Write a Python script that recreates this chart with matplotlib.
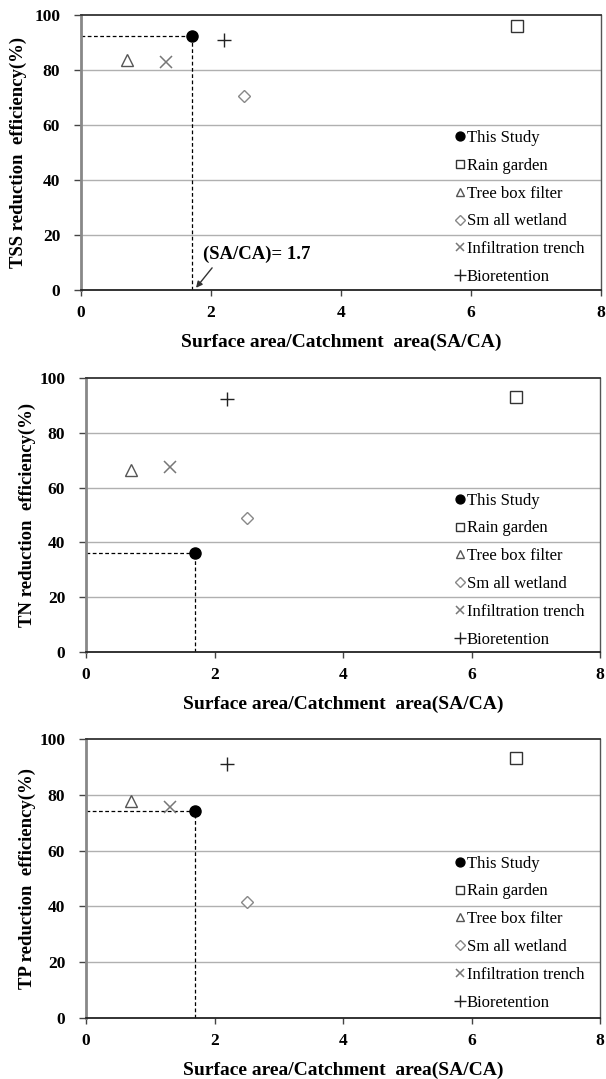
import matplotlib
matplotlib.use("Agg")
import matplotlib.pyplot as plt
from matplotlib.lines import Line2D

plt.rcParams['font.family'] = ['Liberation Serif', 'DejaVu Serif']

categories = ["This Study", "Rain garden", "Tree box filter", "Sm all wetland",
              "Infiltration trench", "Bioretention"]
sa_ca = [1.7, 6.7, 0.7, 2.5, 1.3, 2.2]
tss = [92.2, 96.0, 83.5, 70.7, 82.8, 90.8]
tn = [36.0, 93.0, 66.5, 48.8, 67.6, 92.5]
tp = [74.3, 93.2, 77.9, 41.5, 75.7, 91.0]
ylabels = ["TSS reduction  efficiency(%)", "TN reduction  efficiency(%)",
           "TP reduction  efficiency(%)"]
xlabel = "Surface area/Catchment  area(SA/CA)"
xticks = [0, 2, 4, 6, 8]
yticks = [0, 20, 40, 60, 80, 100]
annot_text = "(SA/CA)= 1.7"

styles = [
    dict(marker='o', mfc='black', mec='black', ms=8, mew=1.0),
    dict(marker='s', mfc='white', mec='#333333', ms=8, mew=1.0),
    dict(marker='^', mfc='white', mec='#555555', ms=8, mew=1.0),
    dict(marker='D', mfc='white', mec='#888888', ms=6, mew=1.0),
    dict(marker='x', mfc='none', mec='#777777', ms=8, mew=1.1),
    dict(marker='+', mfc='none', mec='#222222', ms=10, mew=1.0),
]

fig = plt.figure(figsize=(6.06, 10.79), dpi=100)
rects = [
    [81/606, 1-290/1079, 520/606, 275/1079],
    [86/606, 1-652/1079, 514/606, 274/1079],
    [86/606, 1-1018/1079, 514/606, 279/1079],
]
datas = [tss, tn, tp]
leg_x = [0.721, 0.720, 0.720]
ylabpads = [5, 2, 2]

for i, (rect, vals, yl) in enumerate(zip(rects, datas, ylabels)):
    ax = fig.add_axes(rect)
    ax.set_xlim(0, 8)
    ax.set_ylim(0, 100)
    ax.set_xticks(xticks)
    ax.set_yticks(yticks)
    for y in [20, 40, 60, 80]:
        ax.axhline(y, color='#b0b0b0', lw=1.0, zorder=0)
    handles = []
    for j in range(len(categories)):
        st = styles[j]
        ax.plot([sa_ca[j]], [vals[j]], linestyle='none', zorder=3, **st)
        handles.append(Line2D([], [], linestyle='none', marker=st['marker'],
                              mfc=st['mfc'], mec=st['mec'], mew=st['mew'],
                              ms=st['ms'] * 0.8))
    # dashed guide lines for This Study
    ax.plot([0, sa_ca[0]], [vals[0], vals[0]], ls='--', color='black', lw=0.9,
            dashes=(3, 2), zorder=2)
    ax.plot([sa_ca[0], sa_ca[0]], [0, vals[0]], ls='--', color='black', lw=0.9,
            dashes=(3, 2), zorder=2)
    if i == 0:
        ax.annotate(annot_text, xy=(1.77, 0.8), xytext=(1.88, 13),
                    fontsize=13.5, fontweight='bold', va='center', ha='left',
                    arrowprops=dict(arrowstyle='-|>', color='#333333', lw=1.0,
                                    shrinkA=2, shrinkB=0, mutation_scale=9,
                                    relpos=(0.12, 0.0)),
                    annotation_clip=False)
    ax.legend(handles, categories, loc='upper left',
              bbox_to_anchor=(leg_x[i], 0.582), frameon=False,
              handlelength=0.5, handletextpad=0.15, borderpad=0,
              borderaxespad=0, labelspacing=0.71,
              prop=dict(family='Liberation Serif', size=12))
    ax.set_ylabel(yl, fontsize=13.5, fontweight='bold', labelpad=ylabpads[i])
    ax.set_xlabel(xlabel, fontsize=14, fontweight='bold', labelpad=9)
    for lab in ax.get_xticklabels() + ax.get_yticklabels():
        lab.set_fontweight('bold')
        lab.set_fontsize(12.5)
    ax.tick_params(axis='y', direction='out', length=5, width=1.0,
                   color='#444444', pad=10)
    ax.tick_params(axis='x', direction='out', length=4, width=1.0,
                   color='#444444', pad=7)
    ax.spines['left'].set_color('#888888')
    ax.spines['left'].set_linewidth(2.0)
    ax.spines['bottom'].set_color('#222222')
    ax.spines['bottom'].set_linewidth(1.3)
    ax.spines['top'].set_color('#333333')
    ax.spines['top'].set_linewidth(1.3)
    ax.spines['right'].set_color('#555555')
    ax.spines['right'].set_linewidth(1.0)

fig.savefig("out.png", dpi=100)
